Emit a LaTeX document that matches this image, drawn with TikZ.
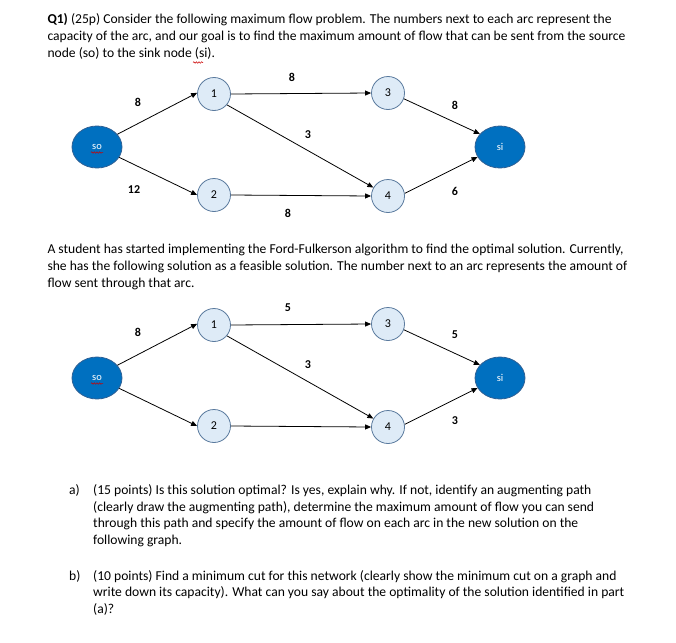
\documentclass[tikz,border=0pt]{standalone}
\usepackage{fontspec}
\setmainfont{Carlito}
\usetikzlibrary{arrows.meta,shapes.geometric,decorations.pathmorphing}
\definecolor{darkblue}{HTML}{0070C0}
\definecolor{darkedge}{HTML}{2E6095}
\definecolor{lightfill}{HTML}{DEEBF7}
\definecolor{lightedge}{HTML}{5A7A9E}
\newcommand\drawflowgraph{%
  \node[bignode] (so) at (97,147) {so};
  \node[bignode] (si) at (500,147) {si};
  \node[smallnode] (n1) at (214,94) {1};
  \node[smallnode] (n2) at (214,195) {2};
  \node[smallnode] (n3) at (388,93) {3};
  \node[smallnode] (n4) at (388,196) {4};
  \draw[flow] (so.32) -- (n1.176);
  \draw[flow] (so.-25) -- (n2.west);
  \draw[flow] (n1.east) -- (n3.west);
  \draw[flow] (n2.east) -- (n4.west);
  \draw[flow] (n1.-40) -- (n4.150);
  \draw[flow] (n3.-20) -- (si.147);
  \draw[flow] (n4.9) -- (si.204);
  \draw[squig] ([shift={(-6,5.5)}]so.center) -- ([shift={(6,5.5)}]so.center);
}
\begin{document}
\begin{tikzpicture}[x=1pt,y=-1pt,
  txt/.style={anchor=base west,inner sep=0pt,font=\fontsize{13.6}{16}\selectfont},
  bignode/.style={ellipse,fill=darkblue,draw=darkedge,line width=0.8pt,minimum width=50pt,minimum height=42pt,inner sep=0pt,text=white,font=\fontsize{10.5}{10.5}\selectfont},
  smallnode/.style={circle,fill=lightfill,draw=lightedge,line width=0.8pt,minimum size=33pt,inner sep=0pt,font=\fontsize{12}{12}\selectfont},
  flow/.style={line width=0.8pt,-{Triangle[length=6pt,width=5pt]}},
  lab/.style={inner sep=0pt,font=\bfseries\fontsize{12}{12}\selectfont},
  squig/.style={draw=red!80!black,line width=0.5pt,decorate,decoration={snake,amplitude=0.8pt,segment length=2.6pt}}]
\fill[white] (0,0) rectangle (676,642);
\useasboundingbox (0,0) rectangle (676,642);
% paragraph 1
\node[txt] (p1a) at (47.3,24) {\textbf{Q1)} (25p) Consider the following maximum flow problem. The numbers next to each arc represent the};
\node[txt] (p1b) at (47.3,40.7) {capacity of the arc, and our goal is to find the maximum amount of flow that can be sent from the source};
\node[txt] (p1c) at (47.3,57.4) {node (so) to the sink node (si).};
\draw[squig] (193,62.5) -- (203,62.5);
% graph 1
\begin{scope}[name prefix=a-]
\drawflowgraph
\end{scope}
\node[lab] (l1) at (138,102) {8};
\node[lab] (l2) at (134,190) {12};
\node[lab] (l3) at (292,77) {8};
\node[lab] (l4) at (308,135) {3};
\node[lab] (l5) at (288,213) {8};
\node[lab] (l6) at (455,105) {8};
\node[lab] (l7) at (455,191) {6};
% paragraph 2
\node[txt] (p2a) at (47.3,253.3) {A student has started implementing the Ford-Fulkerson algorithm to find the optimal solution. Currently,};
\node[txt] (p2b) at (47.3,270.3) {she has the following solution as a feasible solution. The number next to an arc represents the amount of};
\node[txt] (p2c) at (47.3,287.3) {flow sent through that arc.};
% graph 2
\begin{scope}[shift={(0,231)},name prefix=b-]
\drawflowgraph
\end{scope}
\node[lab] (m1) at (138,332) {8};
\node[lab] (m2) at (288,308) {5};
\node[lab] (m3) at (308,365) {3};
\node[lab] (m4) at (455,335) {5};
\node[lab] (m5) at (455,421) {3};
% questions
\node[txt] (qa) at (69,494.3) {a)};
\node[txt] (qa1) at (93,494.3) {(15 points) Is this solution optimal? Is yes, explain why. If not, identify an augmenting path};
\node[txt] (qa2) at (93,511) {(clearly draw the augmenting path), determine the maximum amount of flow you can send};
\node[txt] (qa3) at (93,527.7) {through this path and specify the amount of flow on each arc in the new solution on the};
\node[txt] (qa4) at (93,544.4) {following graph.};
\node[txt] (qb) at (69,580) {b)};
\node[txt] (qb1) at (93,580) {(10 points) Find a minimum cut for this network (clearly show the minimum cut on a graph and};
\node[txt] (qb2) at (93,596.7) {write down its capacity). What can you say about the optimality of the solution identified in part};
\node[txt] (qb3) at (93,613.4) {(a)?};
\end{tikzpicture}
\end{document}
